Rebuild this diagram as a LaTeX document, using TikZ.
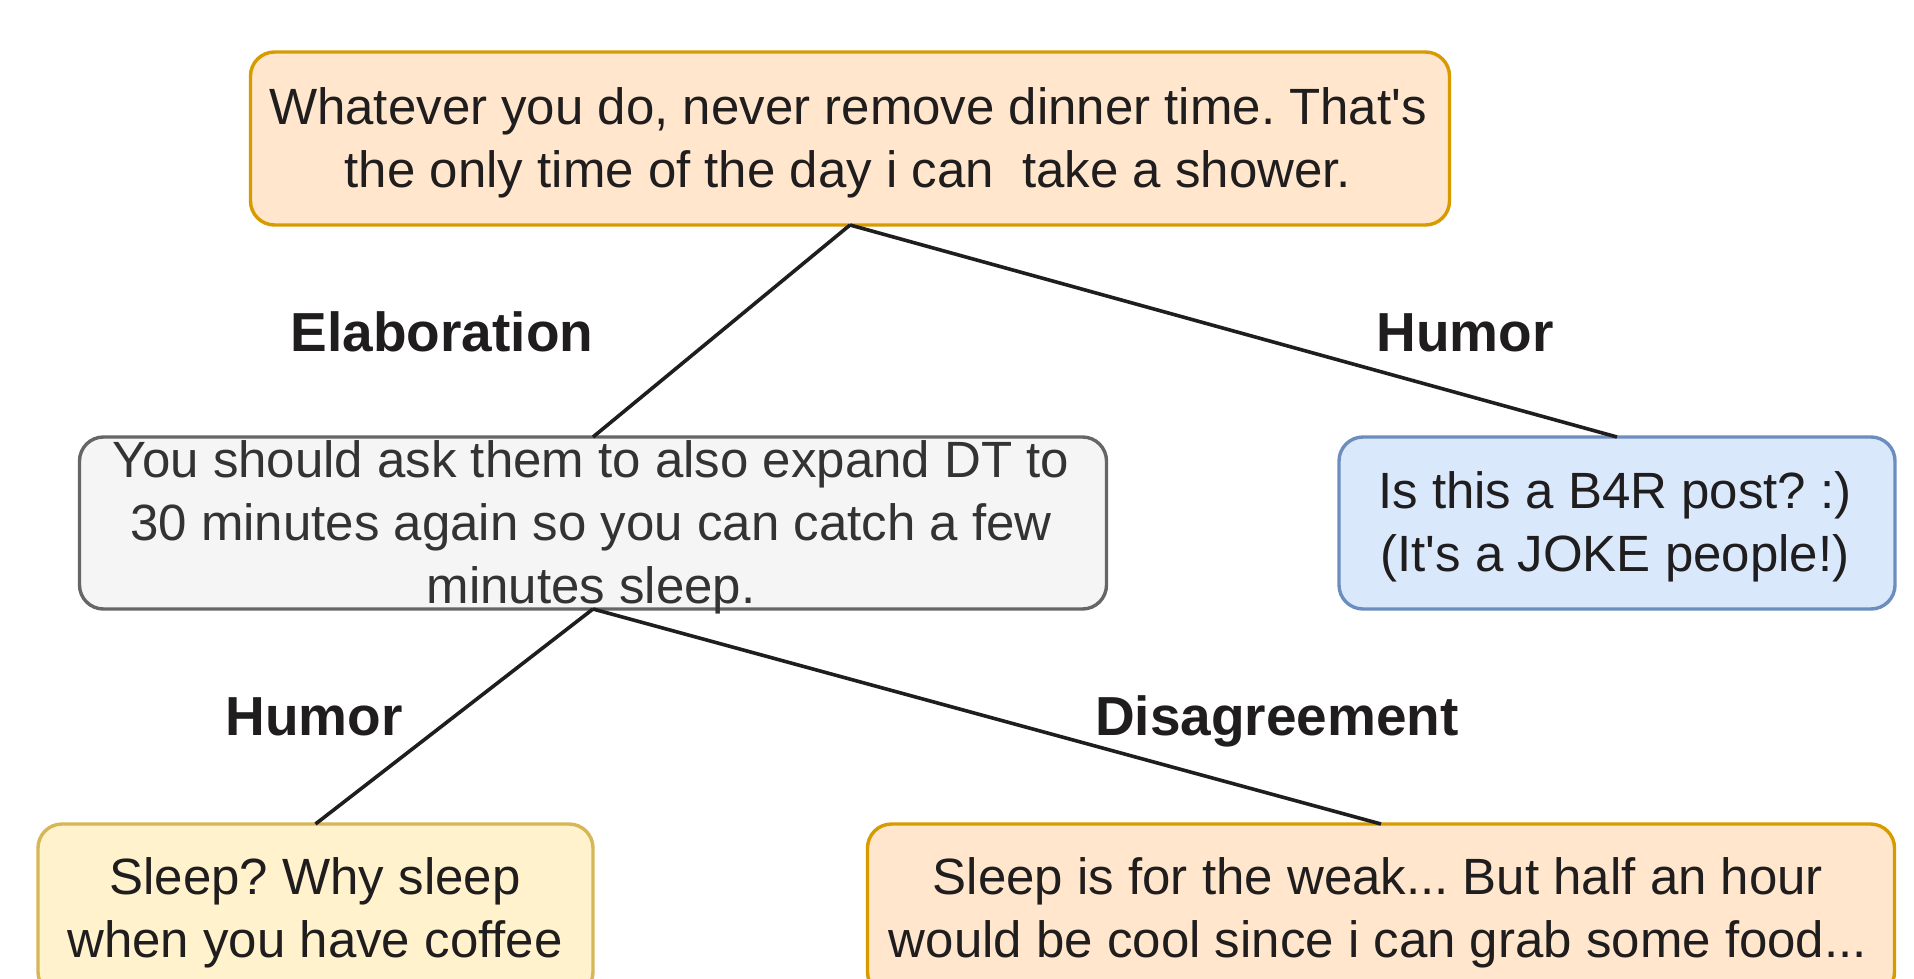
\documentclass[tikz,border=0pt]{standalone}
\usepackage{fontspec}
\setmainfont{Liberation Sans}
\frenchspacing
\definecolor{orfill}{HTML}{FFE6CC}
\definecolor{ordraw}{HTML}{D79B00}
\definecolor{grfill}{HTML}{F5F5F5}
\definecolor{grdraw}{HTML}{666666}
\definecolor{blfill}{HTML}{DAE8FC}
\definecolor{bldraw}{HTML}{6C8EBF}
\definecolor{yefill}{HTML}{FFF2CC}
\definecolor{yedraw}{HTML}{D6B656}
\definecolor{ink}{HTML}{1F1D1D}
\definecolor{grink}{HTML}{333333}
\tikzset{
  box/.style={draw, line width=3.4pt, rounded corners=24pt, inner sep=0pt, outer sep=0pt},
  txt/.style={anchor=base, align=center, inner sep=0pt, text=ink, font=\frenchspacing\fontsize{51}{63}\selectfont},
  lbl/.style={anchor=base, inner sep=0pt, text=ink, font=\fontsize{55}{60}\selectfont\bfseries},
  conn/.style={draw=ink, line width=3.6pt}
}
\begin{document}
\begin{tikzpicture}[x=1pt,y=-1pt]
\useasboundingbox (0,0) rectangle (1914,979);
\clip (0,0) rectangle (1914,979);
% boxes
\node[box, fill=orfill, draw=ordraw, minimum width=1199pt, minimum height=173pt] (top) at (850,138.5) {};
\node[box, fill=grfill, draw=grdraw, minimum width=1027pt, minimum height=172pt] (mid) at (593,523) {};
\node[box, fill=blfill, draw=bldraw, minimum width=556pt, minimum height=172pt] (blue) at (1617,523) {};
\node[box, fill=yefill, draw=yedraw, minimum width=555pt, minimum height=172pt] (bl) at (315.5,910) {};
\node[box, fill=orfill, draw=ordraw, minimum width=1027pt, minimum height=172pt] (br) at (1381,910) {};
% connectors
\draw[conn] (top.south) -- (mid.north);
\draw[conn] (top.south) -- (blue.north);
\draw[conn] (mid.south) -- (bl.north);
\draw[conn] (mid.south) -- (br.north);
% texts (anchor = baseline of the last line)
\node[txt] (toptext) at (848,187) {Whatever you do, never remove dinner time. That\textquotesingle s\\the only time of the day i can\ \ take a shower.};
\node[txt, text=grink] (midtext) at (591,603) {You should ask them to also expand DT to\\30 minutes again so you can catch a few\\minutes sleep.};
\node[txt] (bluetext) at (1615,571) {Is this a B4R post? :)\\(It\textquotesingle s a JOKE people!)};
\node[txt] (bltext) at (315,957) {Sleep? Why sleep\\when you have coffee};
\node[txt] (brtext) at (1378,957) {Sleep is for the weak... But half an hour\\would be cool since i can grab some food...};
% labels
\node[lbl] (l1) at (442,351) {Elaboration};
\node[lbl] (l2) at (1465,351) {Humor};
\node[lbl] (l3) at (314,735) {Humor};
\node[lbl] (l4) at (1277,735) {Disagreement};
\end{tikzpicture}
\end{document}
